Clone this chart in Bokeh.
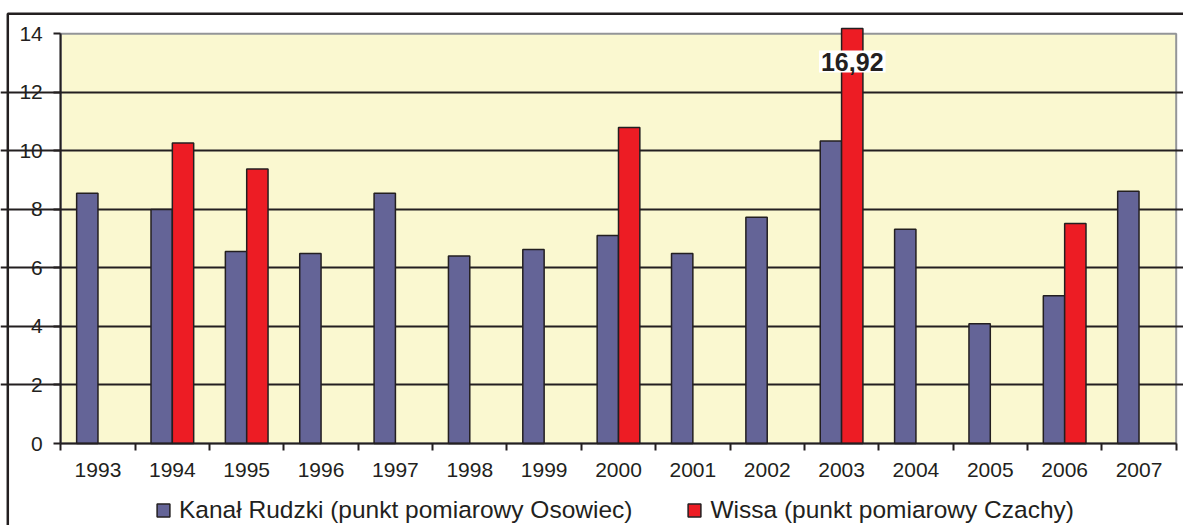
from bokeh.plotting import figure
from bokeh.models import (Range1d, FixedTicker, BoxAnnotation, Label, Legend, LegendItem,
                          ColumnDataSource)
from bokeh.embed import file_html
from bokeh.resources import INLINE

years = [1993, 1994, 1995, 1996, 1997, 1998, 1999, 2000, 2001, 2002, 2003, 2004, 2005, 2006, 2007]
kanal = [8.55, 8.0, 6.56, 6.49, 8.55, 6.41, 6.63, 7.11, 6.49, 7.73, 10.34, 7.32, 4.09, 5.05, 8.62]
wissa = [None, 10.27, 9.38, None, None, None, None, 10.8, None, None, 16.92, None, None, 7.52, None]
y_ticks = [0, 2, 4, 6, 8, 10, 12, 14]
kanal_name = "Kanał Rudzki (punkt pomiarowy Osowiec)"
wissa_name = "Wissa (punkt pomiarowy Czachy)"
peak_label = "16,92"

TXT = "#231f20"
FONT = "Liberation Sans"
BLUE = "#646497"
RED = "#ED1C24"
BG = "#FAF8D0"

n = len(years)
bw = 0.287
y_top = 14

# page layout (pixels)
W, H = 1183, 525
PX_L, PX_R = 60.3, 1175.7      # plot area left / right
PY_T, PY_B = 33.3, 443.0       # plot area top (value 14) / bottom (value 0)
sx = (PX_R - PX_L) / n
sy = (PY_B - PY_T) / y_top


def dx(px):
    return (px - PX_L) / sx


def dy(py):
    return (PY_B - py) / sy


# bars that run off the chart are cut where the chart area ends
y_cut = dy(28)

p = figure(width=W, height=H, output_backend="svg", toolbar_location=None,
           x_range=Range1d(dx(0), dx(W)), y_range=Range1d(dy(H), dy(0)),
           min_border=0, min_border_left=0, min_border_right=0, min_border_top=0,
           min_border_bottom=0)
p.title.visible = False
p.outline_line_color = None
p.background_fill_color = "white"
p.border_fill_color = "white"

# plot area background
p.add_layout(BoxAnnotation(left=0, right=n, bottom=0, top=y_top, fill_color=BG, fill_alpha=1,
                           line_color="#939598", line_alpha=1, line_width=2, level="image"))

kx = [i + 0.5 - bw / 2 for i in range(n)]
src_k = ColumnDataSource(dict(x=kx, top=[min(v, y_cut) for v in kanal]))
wx = [i + 0.5 + bw / 2 for i, v in enumerate(wissa) if v is not None]
wt = [v for v in wissa if v is not None]
src_w = ColumnDataSource(dict(x=wx, top=[min(v, y_cut) for v in wt]))

rk = p.vbar(x="x", top="top", bottom=0, width=bw, source=src_k, fill_color=BLUE,
            line_color=TXT, line_width=1.5)
rw = p.vbar(x="x", top="top", bottom=0, width=bw, source=src_w, fill_color=RED,
            line_color=TXT, line_width=1.5)

# grid
p.xgrid.visible = False
p.ygrid.ticker = FixedTicker(ticks=[t for t in y_ticks if 0 < t < y_top])
p.ygrid.bounds = (0, n)
p.ygrid.grid_line_color = TXT
p.ygrid.grid_line_width = 2

# y axis
ya = p.yaxis[0]
ya.fixed_location = 0
ya.ticker = FixedTicker(ticks=y_ticks)
ya.bounds = (0, y_top)
ya.axis_line_color = TXT
ya.axis_line_width = 2
ya.major_tick_line_color = TXT
ya.major_tick_line_width = 2
ya.major_tick_out = 7
ya.major_tick_in = 0
ya.minor_tick_line_color = None
ya.major_label_text_font = FONT
ya.major_label_text_font_size = "21px"
ya.major_label_text_color = TXT
ya.major_label_standoff = 11

# x axis
xa = p.xaxis[0]
xa.fixed_location = 0
xa.ticker = FixedTicker(ticks=[i + 0.5 for i in range(n)], minor_ticks=list(range(n + 1)))
xa.major_label_overrides = {i + 0.5: str(y) for i, y in enumerate(years)}
xa.bounds = (0, n)
xa.axis_line_color = TXT
xa.axis_line_width = 2
xa.major_tick_out = 0
xa.major_tick_in = 0
xa.major_tick_line_color = None
xa.minor_tick_out = 7
xa.minor_tick_in = 0
xa.minor_tick_line_color = TXT
xa.minor_tick_line_width = 2
xa.major_label_text_font = FONT
xa.major_label_text_font_size = "21px"
xa.major_label_text_color = TXT
xa.major_label_standoff = 12

# value label of the cut bar
peak_i = wissa.index(max(wt))
p.add_layout(Label(x=peak_i + 0.5 + bw / 2, y=dy(61), text=peak_label, text_align="center",
                   text_baseline="middle", text_font=FONT, text_font_size="25px",
                   text_font_style="bold", text_color=TXT, background_fill_color="white",
                   background_fill_alpha=1, padding=2))

# outer chart border (top and left edges inside the picture)
p.add_layout(BoxAnnotation(left=dx(7.3), right=dx(W + 50), top=dy(13.3), bottom=dy(H + 50),
                           fill_alpha=0, line_color=TXT, line_alpha=1, line_width=2.5))

legend = Legend(items=[LegendItem(label=kanal_name, renderers=[rk]),
                       LegendItem(label=wissa_name, renderers=[rw])],
                orientation="horizontal", location=(155, 1), border_line_color=None,
                background_fill_alpha=0, label_text_font=FONT, label_text_font_size="24.5px",
                label_text_color=TXT, glyph_width=16, glyph_height=16, label_standoff=8,
                spacing=54, padding=2, margin=0)
p.add_layout(legend, "center")

open("out.html", "w").write(file_html(p, INLINE))
